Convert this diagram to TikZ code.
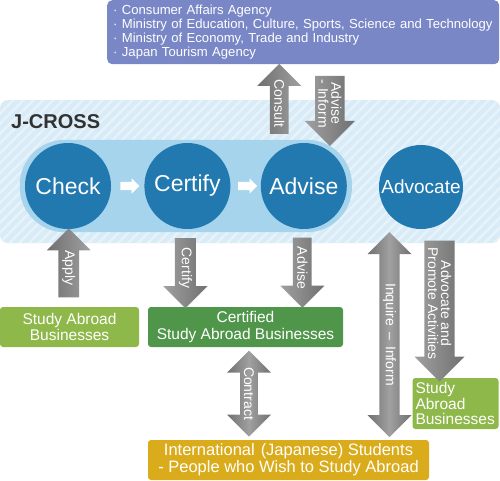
\documentclass[tikz,border=0pt]{standalone}
\usepackage{fontspec}
\setmainfont{Liberation Sans}
\usetikzlibrary{positioning,shapes.arrows,fit,backgrounds,calc,patterns.meta}

\definecolor{agencyblue}{RGB}{122,135,199}
\definecolor{bgblue}{RGB}{216,235,247}
\definecolor{stripeblue}{RGB}{230,243,251}
\definecolor{pillblue}{RGB}{166,212,236}
\definecolor{circblue}{RGB}{33,121,176}
\definecolor{lightgreen}{RGB}{142,184,74}
\definecolor{darkgreen}{RGB}{80,150,74}
\definecolor{mustard}{RGB}{218,172,28}
\definecolor{arwlight}{RGB}{160,160,160}
\definecolor{arwdark}{RGB}{112,112,112}
\definecolor{titlegray}{RGB}{50,50,50}

\begin{document}
\begin{tikzpicture}[x=1pt,y=-1pt,
    circ/.style={circle, fill=circblue, text=white, minimum size=86pt, inner sep=0pt,
      font=\fontsize{23}{23}\selectfont},
    box/.style={rounded corners=3pt, text=white, align=center, inner sep=0pt,
      font=\fontsize{15.5}{16.7}\selectfont},
    arw/.style={single arrow, single arrow tip angle=90, single arrow head extend=8.5pt,
      minimum width=44pt, rotate=-90, text=white, align=center, inner sep=1pt,
      font=\fontsize{14}{13}\selectfont, left color=arwlight, right color=arwdark},
    uparw/.style={arw, shape border rotate=180, left color=arwdark, right color=arwlight},
    dblarw/.style={double arrow, double arrow tip angle=90, double arrow head extend=9pt,
      minimum width=44pt, rotate=-90, text=white, align=center, inner sep=1pt,
      font=\fontsize{14}{13}\selectfont, left color=arwdark, right color=arwdark,
      middle color=arwlight},
    stepin/.style={single arrow, fill=white, single arrow head extend=3.5pt,
      single arrow tip angle=90, minimum height=19pt, inner xsep=0pt, inner ysep=4pt}
  ]
  \useasboundingbox (0,0) rectangle (500,480);

  % ministries
  \node[anchor=north west, fill=agencyblue, rounded corners=5pt, text=white,
    text width=386pt, minimum height=64pt, inner xsep=3pt, inner ysep=3pt,
    font=\fontsize{13.1}{14}\selectfont, align=left] (agency) at (107,0)
    {\hspace{3pt}· Consumer Affairs Agency\\
     \hspace{3pt}· Ministry of Education, Culture, Sports, Science and Technology\\
     \hspace{3pt}· Ministry of Economy, Trade and Industry\\
     \hspace{3pt}· Japan Tourism Agency};

  % J-CROSS
  \node[anchor=base west, inner sep=0pt, text=titlegray,
    font=\fontsize{20}{20}\selectfont\bfseries] (jcross) at (11,128) {J-CROSS};
  \node[circ] (check) at (68,186) {Check};
  \node[circ, right=33pt of check] (certify) {Certify};
  \node[circ, right=30pt of certify] (advise) {Advise};
  \node[circ, minimum size=84pt, font=\fontsize{19}{19}\selectfont] (advocate)
    at (421,187) {Advocate};
  \node[stepin] (step1) at ($(check.east)!.5!(certify.west)$) {};
  \node[stepin] (step2) at ($(certify.east)!.5!(advise.west)$) {};

  \begin{scope}[on background layer]
    \fill[bgblue, rounded corners=8pt,
      postaction={pattern={Lines[angle=45,distance=7pt,line width=2.5pt]},
        pattern color=stripeblue}] (0,100) rectangle (500,243);
    \node[fill=pillblue, rounded corners=45pt, fit=(check)(advise),
      inner xsep=5pt, inner ysep=3pt] (pill) {};
  \end{scope}

  % businesses and students
  \node[box, fill=lightgreen, minimum width=139pt, minimum height=40pt] (sab)
    at (69.5,327) {Study Abroad\\Businesses};
  \node[box, fill=darkgreen, minimum width=195pt, minimum height=40pt] (csab)
    at (245.5,327) {Certified\\Study Abroad Businesses};
  \node[box, fill=lightgreen, minimum width=86pt, minimum height=51pt, align=left,
    text width=80pt, inner xsep=3pt, font=\fontsize{15.5}{15.3}\selectfont] (sab2)
    at (455.5,403.5) {Study\\Abroad\\Businesses};
  \node[box, fill=mustard, minimum width=281pt, minimum height=40pt,
    font=\fontsize{16.5}{16.7}\selectfont] (students)
    at (288.5,460) {International\hspace{6pt}(Japanese) Students\\
    - People who Wish to Study Abroad};

  % arrows
  \node[uparw, minimum height=70pt] (consult)
    at ([xshift=-24.5pt]$(advise.north)!.5!(advise.north |- agency.south)$) {Consult};
  \node[arw, minimum height=70pt, minimum width=50pt, single arrow head extend=9pt] (inform)
    at ([xshift=26pt]$(advise.north)!.5!(advise.north |- agency.south)$) {Advise\\- Inform};
  \node[uparw, minimum height=69pt] (apply)
    at ($(check.south)!.5!(sab.north)$) {Apply};
  \node[arw, minimum height=70pt] (certarw)
    at ([xshift=-2pt]$(certify.south)!.5!(certify.south |- csab.north)$) {Certify};
  \node[arw, minimum height=70pt] (advarw)
    at ([xshift=-1.5pt]$(advise.south)!.5!(advise.south |- csab.north)$) {Advise};
  \node[dblarw, minimum height=205pt] (inquire)
    at ([xshift=-31.5pt]$(advocate.south)!.5!(advocate.south |- students.north)$)
    {Inquire \,–\, Inform};
  \node[arw, minimum height=141pt, minimum width=50pt] (promote)
    at ([xshift=18.5pt]$(advocate.south)!.5!(advocate.south |- sab2.north)$)
    {Advocate and\\Promote Activities};
  \node[dblarw, minimum height=86pt] (contract)
    at ([xshift=3.5pt]$(csab.south)!.5!(csab.south |- students.north)$) {Contract};
\end{tikzpicture}
\end{document}
